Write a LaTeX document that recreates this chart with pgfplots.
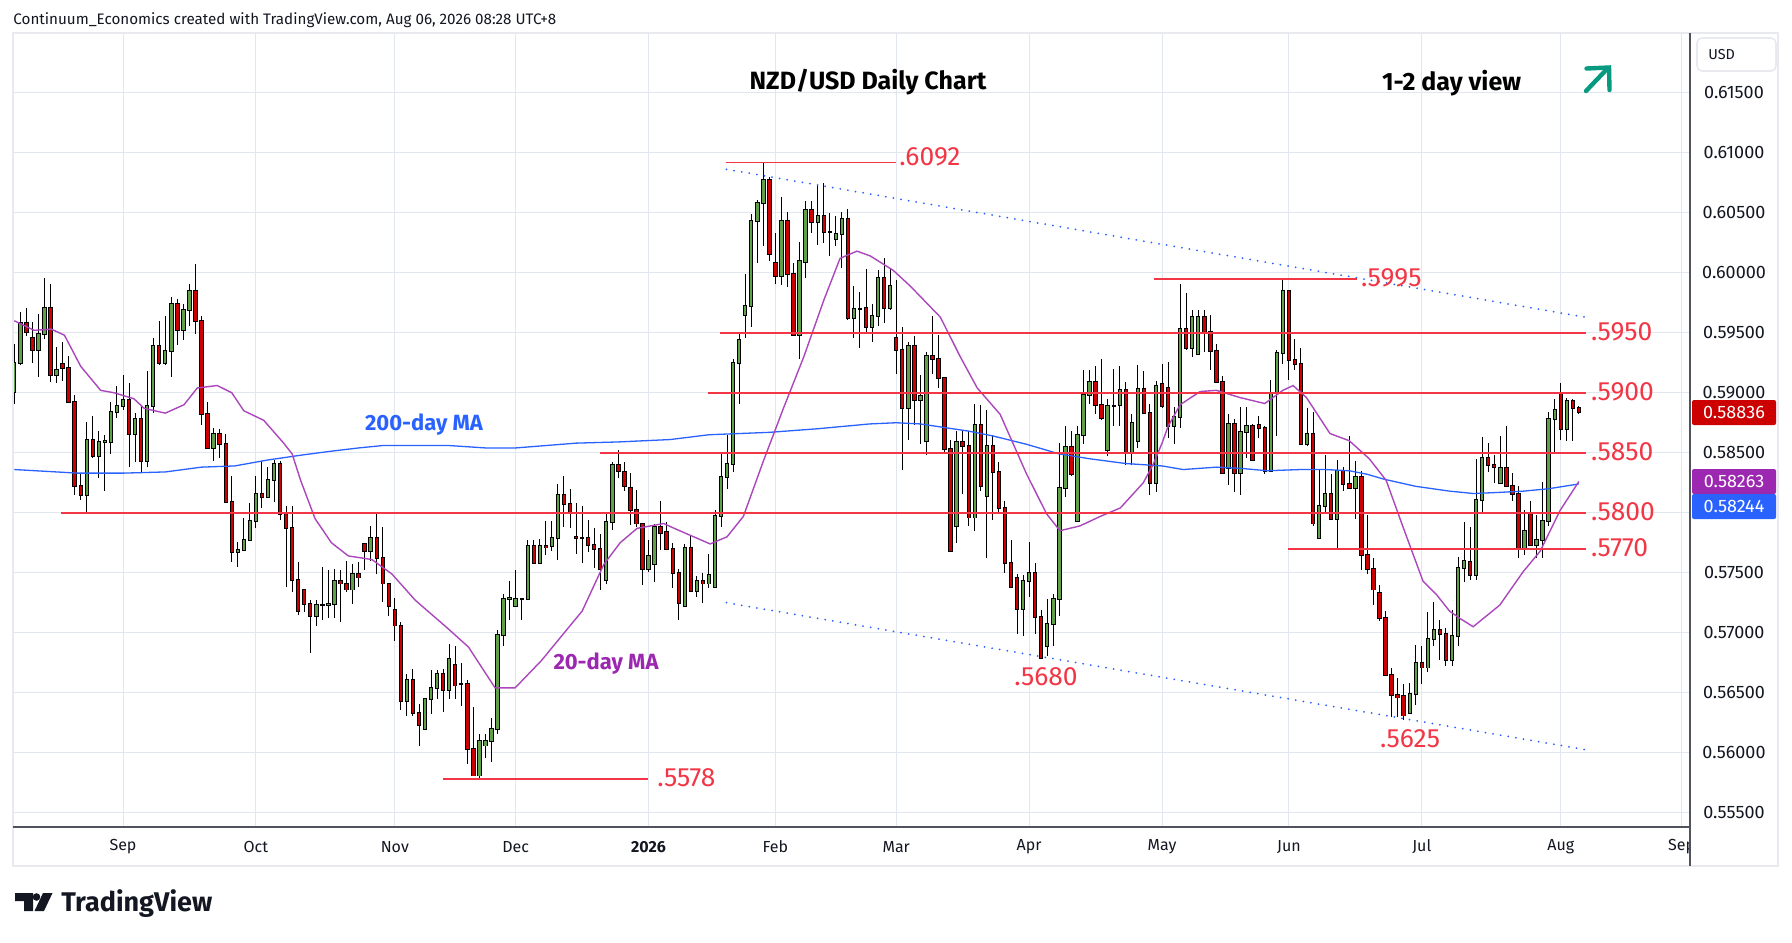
\documentclass[border=0pt]{standalone}
\usepackage{fontspec}
\setmainfont{Fira Sans}
\usepackage{pgfplots}
\usepackage{pgfplotstable}
\pgfplotsset{compat=1.18}
\definecolor{textc}{RGB}{19,23,34}
\definecolor{gridc}{RGB}{226,231,239}
\definecolor{framec}{RGB}{232,234,240}
\definecolor{sepc}{RGB}{80,83,94}
\definecolor{lvl}{RGB}{242,54,69}
\definecolor{upc}{RGB}{96,160,72}
\definecolor{dnc}{RGB}{204,0,0}
\definecolor{tvblue}{RGB}{41,98,255}
\definecolor{mapurple}{RGB}{171,71,188}
\definecolor{labpurple}{RGB}{156,39,176}
\definecolor{teal}{RGB}{8,153,129}

\pgfplotstableread{
i o h l c
0 0.5901 0.5941 0.5891 0.5925
1 0.5925 0.5967 0.5923 0.5958
2 0.5958 0.5971 0.5947 0.5951
3 0.5946 0.5959 0.5925 0.5936
4 0.5936 0.5966 0.5913 0.5949
5 0.5949 0.5996 0.5945 0.5971
6 0.5971 0.5991 0.5909 0.5915
7 0.5915 0.5938 0.5908 0.5919
8 0.5924 0.5942 0.5910 0.5921
9 0.5921 0.5931 0.5892 0.5892
10 0.5892 0.5898 0.5815 0.5822
11 0.5822 0.5833 0.5811 0.5815
12 0.5815 0.5876 0.5800 0.5861
13 0.5861 0.5881 0.5846 0.5847
14 0.5847 0.5868 0.5829 0.5859
15 0.5859 0.5865 0.5818 0.5860
16 0.5859 0.5892 0.5849 0.5884
17 0.5884 0.5906 0.5879 0.5889
18 0.5889 0.5915 0.5886 0.5894
19 0.5894 0.5908 0.5838 0.5866
20 0.5866 0.5883 0.5842 0.5878
21 0.5878 0.5889 0.5834 0.5843
22 0.5843 0.5918 0.5838 0.5889
23 0.5889 0.5946 0.5883 0.5939
24 0.5939 0.5960 0.5923 0.5925
25 0.5925 0.5964 0.5923 0.5935
26 0.5935 0.5980 0.5913 0.5974
27 0.5974 0.5978 0.5940 0.5952
28 0.5952 0.5974 0.5944 0.5969
29 0.5969 0.5991 0.5956 0.5985
30 0.5985 0.6007 0.5949 0.5960
31 0.5960 0.5964 0.5873 0.5882
32 0.5882 0.5892 0.5854 0.5854
33 0.5854 0.5871 0.5843 0.5866
34 0.5866 0.5870 0.5846 0.5857
35 0.5857 0.5866 0.5809 0.5809
36 0.5809 0.5831 0.5759 0.5767
37 0.5767 0.5776 0.5755 0.5769
38 0.5769 0.5796 0.5769 0.5777
39 0.5777 0.5808 0.5777 0.5793
40 0.5793 0.5831 0.5787 0.5816
41 0.5816 0.5843 0.5804 0.5813
42 0.5813 0.5838 0.5813 0.5827
43 0.5827 0.5844 0.5809 0.5841
44 0.5841 0.5843 0.5794 0.5799
45 0.5799 0.5806 0.5738 0.5787
46 0.5787 0.5806 0.5734 0.5744
47 0.5744 0.5759 0.5715 0.5718
48 0.5736 0.5736 0.5717 0.5724
49 0.5724 0.5727 0.5683 0.5714
50 0.5714 0.5727 0.5706 0.5723
51 0.5723 0.5755 0.5711 0.5723
52 0.5723 0.5752 0.5712 0.5724
53 0.5724 0.5753 0.5712 0.5743
54 0.5743 0.5752 0.5709 0.5741
55 0.5741 0.5760 0.5734 0.5736
56 0.5736 0.5757 0.5724 0.5749
57 0.5749 0.5759 0.5738 0.5746
58 0.5774 0.5775 0.5752 0.5768
59 0.5768 0.5789 0.5760 0.5779
60 0.5779 0.5801 0.5749 0.5762
61 0.5762 0.5788 0.5726 0.5741
62 0.5741 0.5741 0.5714 0.5722
63 0.5719 0.5729 0.5693 0.5706
64 0.5706 0.5709 0.5636 0.5643
65 0.5643 0.5666 0.5631 0.5661
66 0.5661 0.5670 0.5631 0.5633
67 0.5633 0.5641 0.5606 0.5623
68 0.5620 0.5645 0.5620 0.5645
69 0.5645 0.5669 0.5632 0.5654
70 0.5654 0.5669 0.5645 0.5666
71 0.5666 0.5670 0.5634 0.5652
72 0.5652 0.5691 0.5645 0.5678
73 0.5673 0.5689 0.5645 0.5656
74 0.5657 0.5675 0.5639 0.5657
75 0.5657 0.5661 0.5591 0.5603
76 0.5603 0.5638 0.5581 0.5581
77 0.5581 0.5616 0.5578 0.5610
78 0.5606 0.5616 0.5596 0.5610
79 0.5610 0.5629 0.5592 0.5620
80 0.5620 0.5702 0.5616 0.5698
81 0.5698 0.5732 0.5689 0.5728
82 0.5728 0.5743 0.5711 0.5729
83 0.5722 0.5752 0.5722 0.5728
84 0.5728 0.5729 0.5711 0.5728
85 0.5728 0.5777 0.5728 0.5772
86 0.5772 0.5777 0.5758 0.5758
87 0.5758 0.5778 0.5757 0.5772
88 0.5772 0.5793 0.5765 0.5771
89 0.5772 0.5793 0.5768 0.5779
90 0.5779 0.5824 0.5761 0.5815
91 0.5815 0.5831 0.5788 0.5807
92 0.5807 0.5820 0.5787 0.5801
93 0.5780 0.5808 0.5766 0.5779
94 0.5779 0.5806 0.5758 0.5779
95 0.5779 0.5794 0.5767 0.5773
96 0.5773 0.5787 0.5754 0.5770
97 0.5770 0.5782 0.5736 0.5753
98 0.5744 0.5801 0.5741 0.5792
99 0.5792 0.5842 0.5786 0.5840
100 0.5840 0.5852 0.5829 0.5835
101 0.5834 0.5842 0.5818 0.5822
102 0.5821 0.5833 0.5790 0.5802
103 0.5802 0.5819 0.5788 0.5791
104 0.5791 0.5791 0.5740 0.5753
105 0.5753 0.5777 0.5751 0.5764
106 0.5757 0.5791 0.5742 0.5788
107 0.5788 0.5810 0.5769 0.5783
108 0.5784 0.5792 0.5769 0.5770
109 0.5770 0.5775 0.5737 0.5750
110 0.5750 0.5753 0.5711 0.5725
111 0.5722 0.5774 0.5722 0.5771
112 0.5771 0.5781 0.5735 0.5735
113 0.5735 0.5747 0.5730 0.5743
114 0.5743 0.5750 0.5725 0.5741
115 0.5741 0.5766 0.5737 0.5748
116 0.5738 0.5802 0.5737 0.5797
117 0.5797 0.5851 0.5788 0.5830
118 0.5830 0.5865 0.5820 0.5841
119 0.5841 0.5928 0.5834 0.5925
120 0.5925 0.5950 0.5891 0.5944
121 0.5965 0.5999 0.5946 0.5972
122 0.5972 0.6049 0.5955 0.6043
123 0.6043 0.6061 0.6008 0.6058
124 0.6058 0.6092 0.6022 0.6077
125 0.6077 0.6080 0.6010 0.6016
126 0.6008 0.6033 0.5991 0.5997
127 0.5997 0.6063 0.5990 0.6043
128 0.6043 0.6051 0.5988 0.5999
129 0.5999 0.6008 0.5947 0.5948
130 0.5948 0.6026 0.5928 0.6010
131 0.6009 0.6060 0.5996 0.6052
132 0.6052 0.6060 0.6033 0.6042
133 0.6042 0.6073 0.6023 0.6047
134 0.6047 0.6075 0.6025 0.6034
135 0.6034 0.6050 0.6014 0.6034
136 0.6028 0.6047 0.6022 0.6032
137 0.6032 0.6051 0.6004 0.6045
138 0.6045 0.6053 0.5961 0.5962
139 0.5962 0.5989 0.5946 0.5970
140 0.5970 0.5984 0.5937 0.5970
141 0.5971 0.6003 0.5951 0.5955
142 0.5955 0.5974 0.5942 0.5964
143 0.5964 0.6002 0.5956 0.5996
144 0.5996 0.6012 0.5958 0.5971
145 0.5971 0.6004 0.5969 0.5989
146 0.5946 0.5994 0.5916 0.5936
147 0.5936 0.5955 0.5836 0.5887
148 0.5887 0.5942 0.5861 0.5939
149 0.5939 0.5947 0.5873 0.5894
150 0.5894 0.5915 0.5857 0.5897
151 0.5860 0.5934 0.5848 0.5931
152 0.5931 0.5964 0.5916 0.5928
153 0.5928 0.5948 0.5904 0.5912
154 0.5912 0.5913 0.5851 0.5853
155 0.5853 0.5861 0.5768 0.5768
156 0.5789 0.5868 0.5775 0.5859
157 0.5859 0.5868 0.5816 0.5856
158 0.5856 0.5868 0.5789 0.5796
159 0.5796 0.5891 0.5785 0.5873
160 0.5873 0.5890 0.5818 0.5822
161 0.5814 0.5886 0.5762 0.5856
162 0.5856 0.5865 0.5794 0.5834
163 0.5834 0.5842 0.5799 0.5804
164 0.5804 0.5810 0.5750 0.5758
165 0.5758 0.5777 0.5737 0.5738
166 0.5746 0.5749 0.5699 0.5720
167 0.5720 0.5748 0.5697 0.5743
168 0.5743 0.5776 0.5730 0.5750
169 0.5750 0.5758 0.5699 0.5713
170 0.5713 0.5719 0.5679 0.5679
171 0.5689 0.5728 0.5681 0.5707
172 0.5707 0.5732 0.5689 0.5728
173 0.5728 0.5858 0.5714 0.5821
174 0.5821 0.5872 0.5813 0.5855
175 0.5855 0.5868 0.5831 0.5832
176 0.5793 0.5872 0.5792 0.5865
177 0.5865 0.5919 0.5857 0.5898
178 0.5898 0.5919 0.5891 0.5909
179 0.5909 0.5922 0.5882 0.5890
180 0.5890 0.5928 0.5877 0.5879
181 0.5852 0.5895 0.5847 0.5889
182 0.5889 0.5920 0.5872 0.5889
183 0.5890 0.5922 0.5872 0.5902
184 0.5902 0.5909 0.5840 0.5850
185 0.5850 0.5882 0.5840 0.5875
186 0.5860 0.5923 0.5854 0.5903
187 0.5903 0.5918 0.5883 0.5883
188 0.5883 0.5891 0.5815 0.5825
189 0.5825 0.5910 0.5817 0.5906
190 0.5907 0.5924 0.5887 0.5889
191 0.5904 0.5926 0.5862 0.5872
192 0.5872 0.5888 0.5857 0.5880
193 0.5880 0.5991 0.5871 0.5953
194 0.5953 0.5983 0.5936 0.5937
195 0.5937 0.5969 0.5930 0.5963
196 0.5932 0.5969 0.5932 0.5963
197 0.5963 0.5969 0.5934 0.5951
198 0.5951 0.5965 0.5919 0.5935
199 0.5935 0.5941 0.5909 0.5909
200 0.5909 0.5914 0.5833 0.5833
201 0.5837 0.5882 0.5823 0.5874
202 0.5874 0.5878 0.5817 0.5833
203 0.5833 0.5888 0.5815 0.5867
204 0.5867 0.5888 0.5846 0.5872
205 0.5872 0.5874 0.5843 0.5844
206 0.5873 0.5881 0.5862 0.5871
207 0.5871 0.5872 0.5832 0.5835
208 0.5835 0.5911 0.5834 0.5900
209 0.5900 0.5936 0.5864 0.5933
210 0.5933 0.5994 0.5924 0.5985
211 0.5985 0.5985 0.5911 0.5927
212 0.5927 0.5945 0.5919 0.5924
213 0.5924 0.5937 0.5857 0.5857
214 0.5857 0.5887 0.5856 0.5866
215 0.5866 0.5884 0.5789 0.5791
216 0.5779 0.5836 0.5778 0.5806
217 0.5806 0.5848 0.5799 0.5816
218 0.5816 0.5832 0.5794 0.5795
219 0.5795 0.5844 0.5770 0.5835
220 0.5835 0.5838 0.5818 0.5824
221 0.5824 0.5864 0.5820 0.5821
222 0.5821 0.5843 0.5795 0.5830
223 0.5830 0.5835 0.5752 0.5765
224 0.5765 0.5798 0.5749 0.5753
225 0.5753 0.5762 0.5723 0.5736
226 0.5733 0.5740 0.5710 0.5712
227 0.5712 0.5718 0.5665 0.5665
228 0.5665 0.5671 0.5630 0.5648
229 0.5648 0.5662 0.5630 0.5646
230 0.5647 0.5657 0.5627 0.5631
231 0.5633 0.5658 0.5632 0.5649
232 0.5649 0.5690 0.5640 0.5675
233 0.5675 0.5689 0.5657 0.5671
234 0.5671 0.5717 0.5667 0.5695
235 0.5695 0.5726 0.5689 0.5702
236 0.5702 0.5711 0.5677 0.5699
237 0.5699 0.5704 0.5672 0.5677
238 0.5677 0.5719 0.5672 0.5697
239 0.5697 0.5763 0.5689 0.5754
240 0.5754 0.5792 0.5742 0.5760
241 0.5759 0.5788 0.5744 0.5748
242 0.5748 0.5845 0.5744 0.5811
243 0.5811 0.5863 0.5800 0.5846
244 0.5846 0.5858 0.5834 0.5840
245 0.5840 0.5848 0.5825 0.5838
246 0.5825 0.5864 0.5825 0.5837
247 0.5837 0.5872 0.5822 0.5822
248 0.5822 0.5833 0.5810 0.5816
249 0.5816 0.5822 0.5762 0.5771
250 0.5771 0.5802 0.5765 0.5785
251 0.5799 0.5810 0.5773 0.5773
252 0.5773 0.5798 0.5762 0.5777
253 0.5777 0.5826 0.5762 0.5793
254 0.5793 0.5884 0.5789 0.5878
255 0.5878 0.5895 0.5849 0.5886
256 0.5899 0.5908 0.5861 0.5870
257 0.5870 0.5896 0.5860 0.5893
258 0.5893 0.5895 0.5860 0.5887
259 0.5887 0.5889 0.5882 0.58836
}\candles

\begin{document}
\begin{tikzpicture}
\useasboundingbox (0,0) rectangle (896pt,-471pt);
\fill[white] (0,0) rectangle (896pt,-471pt);
\begin{axis}[
  at={(6.35pt,-413.5pt)}, anchor=south west,
  scale only axis, width=838.65pt, height=397pt,
  xmin=-0.26, xmax=277.4, ymin=0.55381, ymax=0.61998,
  axis line style={draw=none},
  major tick length=0pt,
  scaled y ticks=false,
  xtick={18,40,63,83,105,126,146,168,190,211,233,256,276},
  xticklabels={Sep,Oct,Nov,Dec,\textbf{2026},Feb,Mar,Apr,May,Jun,Jul,Aug,Sep},
  ytick={0.555,0.56,0.565,0.57,0.575,0.58,0.585,0.59,0.595,0.6,0.605,0.61,0.615},
  yticklabels={0.55500,0.56000,0.56500,0.57000,0.57500,{},0.58500,0.59000,0.59500,0.60000,0.60500,0.61000,0.61500},
  yticklabel pos=right,
  grid=major, major grid style={draw=gridc, line width=0.5pt},
  xticklabel style={font=\fontsize{8}{9}\selectfont, text=textc, anchor=center, yshift=-10pt},
  yticklabel style={font=\fontsize{9}{10}\selectfont, text=textc, anchor=center, xshift=22pt},
]
% wicks
\addplot[draw=none, mark=none, error bars/.cd, y dir=both, y explicit, error mark=none,
  error bar style={draw=black, line width=0.5pt}]
  table[x=i, y=c, y error plus expr={\thisrow{h}-\thisrow{c}}, y error minus expr={\thisrow{c}-\thisrow{l}}] {\candles};
% body outlines
\addplot[draw=none, mark=none, error bars/.cd, y dir=minus, y explicit, error mark=none,
  error bar style={draw=black, line width=2.2pt}]
  table[x=i, y expr={max(\thisrow{o},\thisrow{c})+0.00008}, y error minus expr={abs(\thisrow{c}-\thisrow{o})+0.00016}] {\candles};
% up bodies
\addplot[draw=none, mark=none, restrict expr to domain={\thisrow{c}-\thisrow{o}}{0:1},
  error bars/.cd, y dir=minus, y explicit, error mark=none,
  error bar style={draw=upc, line width=1.2pt}]
  table[x=i, y expr={max(\thisrow{o},\thisrow{c})}, y error minus expr={abs(\thisrow{c}-\thisrow{o})}] {\candles};
% down bodies
\addplot[draw=none, mark=none, restrict expr to domain={\thisrow{c}-\thisrow{o}}{-1:-0.000001},
  error bars/.cd, y dir=minus, y explicit, error mark=none,
  error bar style={draw=dnc, line width=1.2pt}]
  table[x=i, y expr={max(\thisrow{o},\thisrow{c})}, y error minus expr={abs(\thisrow{c}-\thisrow{o})}] {\candles};
% 200-day MA
\addplot[tvblue, line width=0.65pt, mark=none] coordinates {
(0,0.5836) (10.5,0.5833) (18,0.5833) (25,0.5834) (31,0.5838) (36.5,0.5839) (42,0.5844) (47.5,0.5848)
(52,0.5851) (57,0.5854) (61,0.5856) (67,0.5856) (72,0.5856) (78,0.5854) (83,0.5854) (88,0.5856)
(93,0.5858) (100,0.5859) (108.6,0.5861) (115,0.5865) (125,0.5867) (133,0.5870) (141.6,0.5874)
(146,0.5875) (150,0.5874) (154,0.5871) (158,0.5868) (162,0.5864) (167.6,0.5857) (173,0.5849)
(178,0.5845) (184,0.5841) (190,0.5839) (193.5,0.5836) (199,0.5838) (203,0.5837) (207.4,0.5835)
(212.9,0.5836) (217,0.5836) (221,0.5835) (224,0.5832) (226.7,0.5828) (232,0.5822) (237.6,0.5818)
(241.6,0.5816) (246,0.5817) (249.8,0.5818) (254,0.5820) (259,0.5824)};
% 20-day MA
\addplot[mapurple, line width=0.7pt, mark=none] coordinates {
(0,0.5960) (3.3,0.5952) (6.1,0.5953) (8.3,0.5948) (11,0.5922) (14.3,0.5902) (16.5,0.5900)
(19.8,0.5895) (21.5,0.5887) (25,0.5883) (28.1,0.5890) (30.3,0.5904) (33.6,0.5906) (36,0.5900)
(38,0.5885) (41.3,0.5877) (44.6,0.5858) (46,0.5849) (47.4,0.5827) (49.8,0.5795) (52.5,0.5775)
(55.3,0.5764) (59.2,0.5761) (62.5,0.5749) (66.4,0.5727) (71.9,0.5703) (75.2,0.5688) (79.6,0.5654)
(82.9,0.5654) (87.3,0.5677) (91.7,0.5704) (94,0.5718) (97.6,0.5757) (100.3,0.5775) (103.1,0.5787)
(107.5,0.5791) (109.7,0.5786) (115.2,0.5774) (118,0.5780) (120.7,0.5797) (124,0.5843) (127.4,0.5888)
(130.7,0.5930) (134,0.5977) (136.7,0.6012) (139.5,0.6018) (141.7,0.6014) (145.5,0.6002) (148.3,0.5989)
(153.3,0.5963) (156.6,0.5930) (159.4,0.5904) (163.2,0.5882) (167.6,0.5832) (170.9,0.5799)
(173.1,0.5785) (176.4,0.5789) (179.8,0.5797) (183.1,0.5804) (186.9,0.5825) (188.5,0.5840)
(190,0.5858) (191,0.5872) (193,0.5890) (196.3,0.5901) (199,0.5902) (202.9,0.5896) (207,0.5891)
(210,0.5902) (211.7,0.5906) (213.9,0.5896) (217.8,0.5866) (221,0.5860) (224.3,0.5845) (227.1,0.5827)
(229.9,0.5788) (233.2,0.5743) (235.4,0.5732) (237.6,0.5718) (239.3,0.5712) (241.5,0.5705)
(245.9,0.5723) (249.8,0.5751) (252.6,0.5768) (255.9,0.5802) (259,0.5826)};
% trend channel
\addplot[tvblue, line width=1pt, line cap=round, dash pattern=on 0pt off 3.85pt, mark=none]
  coordinates {(117.9,0.60862) (260.7,0.59624)};
\addplot[tvblue, line width=1pt, line cap=round, dash pattern=on 0pt off 3.85pt, mark=none]
  coordinates {(117.9,0.57250) (260.7,0.56020)};
% levels
\addplot[lvl, line width=0.8pt, mark=none] coordinates {(117.8,0.6092) (146,0.6092)};
\addplot[lvl, line width=0.8pt, mark=none] coordinates {(188.7,0.5995) (222.2,0.5995)};
\addplot[lvl, line width=0.8pt, mark=none] coordinates {(116.8,0.5950) (260.2,0.5950)};
\addplot[lvl, line width=0.8pt, mark=none] coordinates {(114.9,0.5900) (260.2,0.5900)};
\addplot[lvl, line width=0.8pt, mark=none] coordinates {(96.9,0.5850) (260.2,0.5850)};
\addplot[lvl, line width=0.8pt, mark=none] coordinates {(7.8,0.5800) (260.2,0.5800)};
\addplot[lvl, line width=0.8pt, mark=none] coordinates {(210.9,0.5770) (260.2,0.5770)};
\addplot[lvl, line width=0.8pt, mark=none] coordinates {(70.9,0.5578) (104.9,0.5578)};
\end{axis}
\begin{scope}[x=0.5pt, y=-0.5pt]
% cover clipped Sep label under price panel
\fill[white] (1691,828) rectangle (1777,865);
% frame
\draw[framec, line width=0.9pt] (12.7,33) rectangle (1778,866);
\draw[sepc, line width=0.6pt] (12.7,827) -- (1690,827);
\draw[sepc, line width=0.6pt] (1690,33) -- (1690,866);
% USD box
\draw[framec, fill=white, line width=0.8pt, rounded corners=2.5pt] (1697,38) rectangle (1776,71);
\node[anchor=west, inner sep=0, text=textc, font=\fontsize{7.2}{8}\selectfont] at (1708,55) {USD};
% badges
\fill[dnc, rounded corners=1pt] (1692,400) rectangle (1776,425);
\node[text=white, inner sep=0, font=\fontsize{9}{10}\selectfont] at (1734,412.5) {0.58836};
\fill[labpurple, rounded corners=1pt] (1692,469) rectangle (1776,494);
\node[text=white, inner sep=0, font=\fontsize{9}{10}\selectfont] at (1734,481.5) {0.58263};
\fill[tvblue, rounded corners=1pt] (1692,494) rectangle (1776,519);
\node[text=white, inner sep=0, font=\fontsize{9}{10}\selectfont] at (1734,506.5) {0.58244};
% level labels
\begin{scope}[every node/.style={text=lvl, inner sep=0, font=\fontsize{13.2}{14}\selectfont}]
\node[anchor=west] at (1590.7,331.7) {.5950};
\node[anchor=west] at (1590.7,391.7) {.5900};
\node[anchor=west] at (1590.7,451.7) {.5850};
\node[anchor=west] at (1590.7,511.7) {.5800};
\node[anchor=west] at (1590.7,547.7) {.5770};
\node[anchor=west] at (899,157) {.6092};
\node[anchor=west] at (1360.7,277.5) {.5995};
\node[anchor=west] at (657,778) {.5578};
\node at (1046,677) {.5680};
\node at (1410,739) {.5625};
\end{scope}
% MA labels
\node[text=tvblue, inner sep=0, font=\bfseries\fontsize{11}{12}\selectfont] at (424,425) {200-day MA};
\node[text=labpurple, inner sep=0, font=\bfseries\fontsize{11}{12}\selectfont] at (606,664) {20-day MA};
% titles
\node[anchor=base, inner sep=0, text=black, font=\bfseries\fontsize{12.5}{13}\selectfont] at (868,89) {NZD/USD Daily Chart};
\node[anchor=base, inner sep=0, text=black, font=\bfseries\fontsize{12.5}{13}\selectfont] at (1451.5,90.7) {1-2 day view};
\draw[teal, line width=2.2pt, line cap=round, line join=round] (1586,91) -- (1607,69);
\draw[teal, line width=2.2pt, line cap=round, line join=miter] (1586.5,68.5) -- (1609,67.5) -- (1609.5,90);
% header
\node[anchor=base west, inner sep=0, text=textc, font=\fontsize{7.6}{8}\selectfont] at (13,24.5)
  {Continuum\_Economics created with TradingView.com, Aug 06, 2026 08:28 UTC+8};
% TradingView logo
\fill[textc] (15,893) -- (33,893) -- (33,911) -- (24,911) -- (24,901) -- (15,901) -- cycle;
\fill[textc] (36.5,897) circle (3.8);
\fill[textc] (43,893) -- (52.5,893) -- (44,911) -- (34.5,911) -- cycle;
\node[anchor=base west, inner sep=0, text=textc, font=\bfseries\fontsize{13.5}{14}\selectfont] at (61,911) {TradingView};
\end{scope}
\end{tikzpicture}
\end{document}
